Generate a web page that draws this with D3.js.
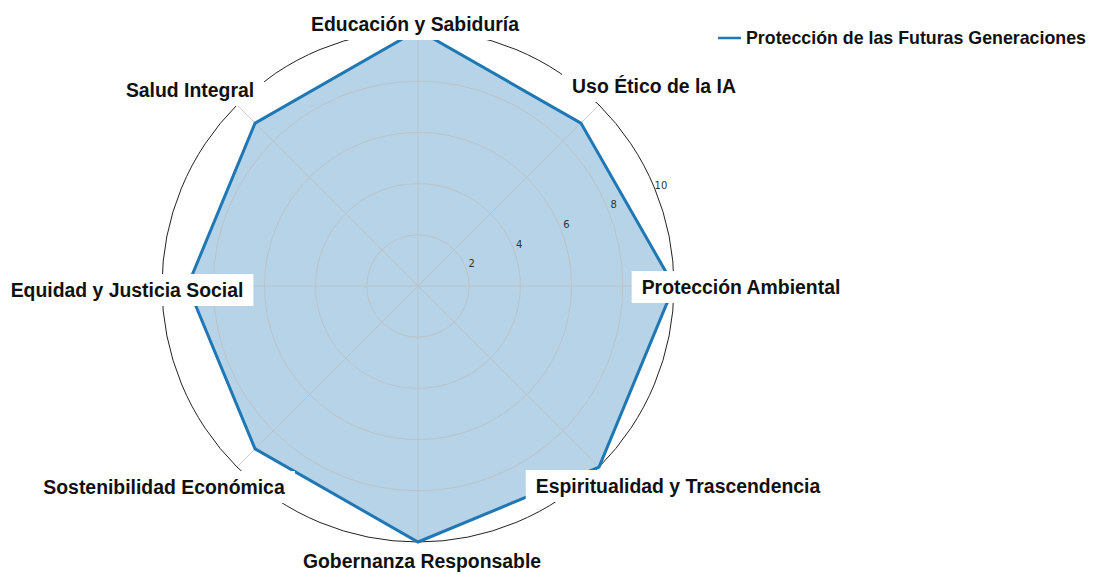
<!DOCTYPE html>
<html>
<head>
<meta charset="utf-8">
<script src="https://cdn.jsdelivr.net/npm/d3@7"></script>
<style>
  body { margin: 0; background: #fff; }
  svg { display: block; }
  .lbl { font-family: "Liberation Sans", Arial, sans-serif; font-weight: bold; font-size: 19.4px; fill: #111; }
  .tick { font-family: "DejaVu Sans", sans-serif; font-size: 10px; fill: #333; }
</style>
</head>
<body>
<div id="chart"></div>
<script>
// data
const categories = ["Protección Ambiental", "Uso Ético de la IA", "Educación y Sabiduría", "Salud Integral",
    "Equidad y Justicia Social", "Sostenibilidad Económica", "Gobernanza Responsable", "Espiritualidad y Trascendencia"];
const values = [10, 9, 10, 9, 9, 9, 10, 10];
const seriesName = "Protección de las Futuras Generaciones";
const radialTicks = [2, 4, 6, 8, 10];

// layout
const width = 1096, height = 574;
const cx = 418, cy = 286, R = 256;
const color = "#1f77b4";
// label centres relative to the chart centre (px)
const labelOffset = [[323, 1], [236, -200], [-3, -262], [-228, -196], [-291, 4], [-254, 201], [4, 275], [260, 200]];

const svg = d3.select("#chart").append("svg")
    .attr("width", width)
    .attr("height", height);

const g = svg.append("g").attr("transform", "translate(" + cx + "," + cy + ")");

const r = d3.scaleLinear().domain([0, 10]).range([0, R]);
const angle = d3.scaleLinear().domain([0, categories.length]).range([0, 2 * Math.PI]);

// x,y for index and value (counter-clockwise from east)
function pt(i, v) {
    const a = angle(i);
    return [r(v) * Math.cos(a), -r(v) * Math.sin(a)];
}

// area
const line = d3.lineRadial()
    .angle((d, i) => Math.PI / 2 - angle(i))
    .radius(d => r(d))
    .curve(d3.curveLinearClosed);

g.append("path")
    .datum(values)
    .attr("d", line)
    .attr("fill", color)
    .attr("fill-opacity", 0.32)
    .attr("stroke", "none");

// grid circles + spokes
g.selectAll("circle.grid")
    .data(radialTicks.filter(d => d < 10))
    .enter().append("circle")
    .attr("class", "grid")
    .attr("r", d => r(d))
    .attr("fill", "none")
    .attr("stroke", "#bdbdbd")
    .attr("stroke-opacity", 0.75)
    .attr("stroke-width", 1);

g.selectAll("line.spoke")
    .data(categories)
    .enter().append("line")
    .attr("x1", 0).attr("y1", 0)
    .attr("x2", (d, i) => pt(i, 10)[0])
    .attr("y2", (d, i) => pt(i, 10)[1])
    .attr("stroke", "#bdbdbd")
    .attr("stroke-opacity", 0.75)
    .attr("stroke-width", 1);

// outer spine
g.append("circle")
    .attr("r", r(10))
    .attr("fill", "none")
    .attr("stroke", "#222")
    .attr("stroke-width", 1);

g.append("path")
    .datum(values)
    .attr("d", line)
    .attr("fill", "none")
    .attr("stroke", color)
    .attr("stroke-width", 3)
    .attr("stroke-linejoin", "miter");

// radial tick labels
const ra = 22.5 * Math.PI / 180;
g.selectAll("text.tick")
    .data(radialTicks)
    .enter().append("text")
    .attr("class", "tick")
    .attr("x", d => (r(d) + 7) * Math.cos(ra))
    .attr("y", d => -(r(d) + 7) * Math.sin(ra))
    .attr("text-anchor", "middle")
    .attr("dominant-baseline", "central")
    .text(d => d);

// category labels with white boxes
const labels = g.selectAll("g.lbl")
    .data(categories)
    .enter().append("g")
    .attr("transform", (d, i) => "translate(" + labelOffset[i][0] + "," + labelOffset[i][1] + ")");

labels.append("rect").attr("fill", "#fff");
labels.append("text")
    .attr("class", "lbl")
    .attr("text-anchor", "middle")
    .attr("dominant-baseline", "central")
    .text(d => d);

labels.each(function () {
    const t = d3.select(this).select("text").node().getBBox();
    d3.select(this).select("rect")
        .attr("x", t.x - 10).attr("y", t.y - 5)
        .attr("width", t.width + 20).attr("height", t.height + 10);
});

// legend
const leg = svg.append("g").attr("transform", "translate(718,38)");
leg.append("line")
    .attr("x1", 0).attr("x2", 23)
    .attr("stroke", color).attr("stroke-width", 2.5);
leg.append("text")
    .attr("class", "lbl")
    .style("font-size", "17.8px")
    .attr("x", 28).attr("y", 0)
    .attr("dominant-baseline", "central")
    .text(seriesName);
</script>
</body>
</html>
